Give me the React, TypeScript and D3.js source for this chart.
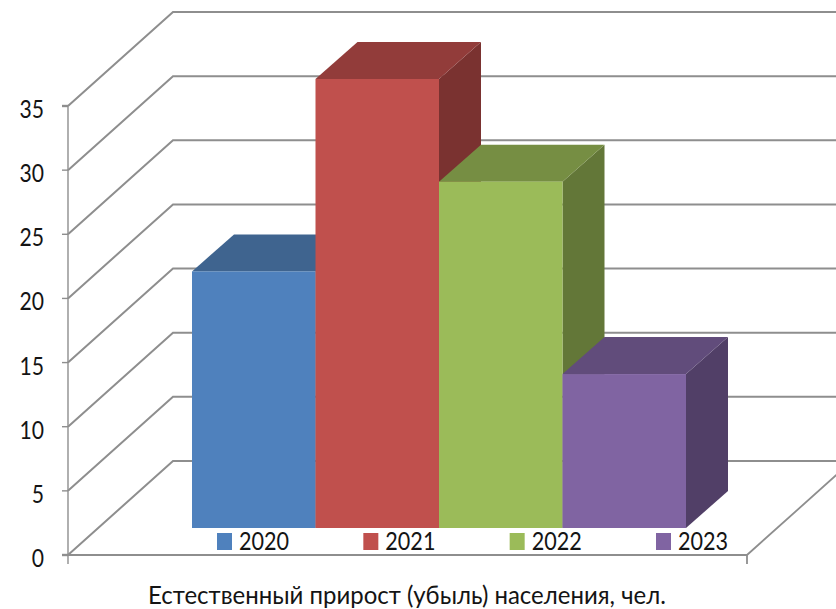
import React from "react";
import * as d3 from "d3";

const years = ["2020", "2021", "2022", "2023"];
const values = [20, 35, 27, 12];
const frontColors = ["#4f81bd", "#c0504d", "#9bbb59", "#8064a2"];
const topColors = ["#3f648f", "#923c3a", "#768e43", "#614c7b"];
const sideColors = ["#355477", "#7a3230", "#637738", "#513f67"];
const yTicks = [0, 5, 10, 15, 20, 25, 30, 35];
const title = "Естественный прирост (убыль) населения, чел.";

const W = 836, H = 609;
const wallDX = 105, wallDY = -94;
const depthDX = 42, depthDY = -37;
const gridColor = "#8e8e8e";
const font = "Lato, 'Open Sans', sans-serif";

const yFront = d3.scaleLinear().domain([0, 35]).range([555, 106]);
const yBar = d3.scaleLinear().domain([0, 35]).range([528, 79]);
const xBar = d3.scaleBand<string>().domain(years).range([192, 686]).padding(0);
const xLegend = d3.scalePoint<string>().domain(years).range([217, 656]);
const axisLeft = 68, axisRight = 747;
const line = d3.line();

function StretchText({ x, y, anchor, sx, sy, size, children }: any) {
  return (
    <text
      transform={`translate(${x},${y}) scale(${sx},${sy})`}
      textAnchor={anchor}
      fontFamily={font}
      fontSize={size}
      fill="#141414"
    >
      {children}
    </text>
  );
}

export default function App() {
  return (
    <svg width={W} height={H} viewBox={`0 0 ${W} ${H}`} style={{ position: "fixed", left: 0, top: 0, background: "#fff" }}>
      {yTicks.map((t) => {
        const y = yFront(t);
        return (
          <g key={t}>
            <path
              d={line([[axisLeft, y], [axisLeft + wallDX, y + wallDY], [W + 20, y + wallDY]]) as string}
              fill="none"
              stroke={gridColor}
              strokeWidth={2}
            />
            <path d={line([[62, y], [axisLeft, y]]) as string} stroke={gridColor} strokeWidth={t === 35 || t === 0 ? 2.4 : 1.4} />
            <StretchText x={44} y={y + 12} anchor="end" sx={0.88} sy={1.08} size={24}>{t}</StretchText>
          </g>
        );
      })}
      <path d={line([[axisLeft, yFront(0) + 9], [axisLeft, yFront(35)]]) as string} stroke={gridColor} strokeWidth={1.4} fill="none" />
      <path d={line([[axisLeft, 555], [axisRight, 555]]) as string} stroke={gridColor} strokeWidth={2} fill="none" />
      <path d={line([[axisRight, 564], [axisRight, 555], [axisRight + wallDX, 555 + wallDY]]) as string} stroke={gridColor} strokeWidth={1.8} fill="none" />

      {years.map((yr, i) => {
        const x0 = xBar(yr) as number;
        const x1 = x0 + xBar.bandwidth();
        const yT = yBar(values[i]);
        const yB = yBar(0);
        return (
          <g key={yr}>
            <polygon
              points={[[x1, yT], [x1 + depthDX, yT + depthDY], [x1 + depthDX, yB + depthDY], [x1, yB]].join(" ")}
              fill={sideColors[i]}
            />
            <polygon
              points={[[x0, yT], [x0 + depthDX, yT + depthDY], [x1 + depthDX, yT + depthDY], [x1, yT]].join(" ")}
              fill={topColors[i]}
            />
          </g>
        );
      })}
      {years.map((yr, i) => {
        const x0 = xBar(yr) as number;
        return (
          <rect key={yr} x={x0} y={yBar(values[i])} width={xBar.bandwidth()} height={yBar(0) - yBar(values[i])} fill={frontColors[i]} />
        );
      })}

      {years.map((yr, i) => {
        const x = xLegend(yr) as number;
        return (
          <g key={yr}>
            <rect x={x} y={533} width={15} height={17} fill={frontColors[i]} />
            <StretchText x={x + 22} y={550} anchor="start" sx={0.9} sy={1.08} size={24}>{yr}</StretchText>
          </g>
        );
      })}

      <StretchText x={407} y={604} anchor="middle" sx={1.0} sy={1.08} size={24}>{title}</StretchText>
    </svg>
  );
}
